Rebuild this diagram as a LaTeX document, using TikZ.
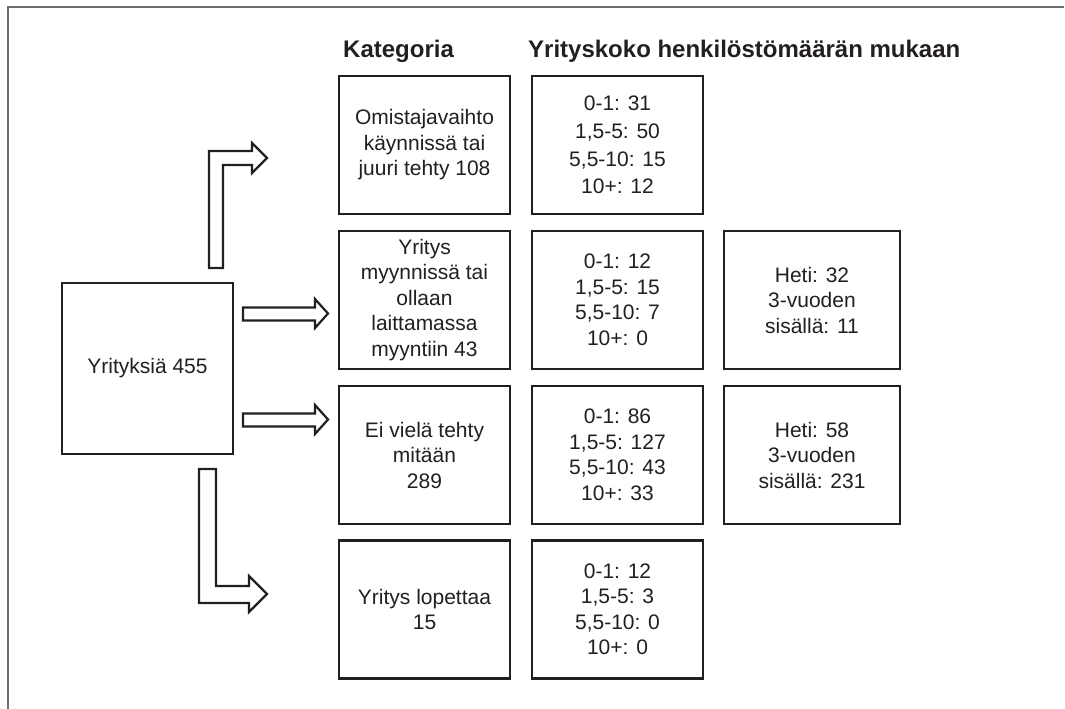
\documentclass[tikz,border=0pt]{standalone}
\usepackage{fontspec}
\setmainfont{Liberation Sans}
\definecolor{ink}{HTML}{231F20}
\definecolor{framegray}{HTML}{6E6E6E}
\begin{document}
\begin{tikzpicture}[x=1pt,y=-1pt,
  box/.style={draw=ink, line width=2.6pt, fill=white, inner sep=0pt, minimum width=171pt, minimum height=138pt, align=center, text=ink, font=\fontsize{21}{25.5}\selectfont},
  wbox/.style={box, minimum width=176pt},
  hdr/.style={anchor=base west, text=ink, font=\bfseries\fontsize{24}{28}\selectfont, inner sep=0pt},
  blockarrow/.style={draw=ink, line width=2.2pt, fill=white, line join=miter}
]
\useasboundingbox (0,0) rectangle (1065,709);
% frame
\draw[framegray, line width=1.5pt] (8,709) -- (8,7) -- (1064,7);

% headers
\node[hdr] (hcat) at (343,58) {Kategoria};
\node[hdr] (hsize) at (528,58) {Yrityskoko henkilöstömäärän mukaan};

% main box
\node[box, minimum width=171pt, minimum height=171pt] (main) at (147.5,368.5) {Yrityksiä 455};

% category column
\node[box] (c1) at (424.5,145) {Omistajavaihto\\käynnissä tai\\juuri tehty 108};
\node[box] (c2) at (424.5,300) {Yritys\\myynnissä tai\\ollaan\\laittamassa\\myyntiin 43};
\node[box] (c3) at (424.5,455) {Ei vielä tehty\\mitään\\289};
\node[box] (c4) at (424.5,609.5) {Yritys lopettaa\\15};

% size column
\node[box, font=\fontsize{21}{27.7}\selectfont] (s1) at (617.5,145) {0-1: 31\\1,5-5: 50\\5,5-10: 15\\10+: 12};
\node[box] (s2) at (617.5,300) {0-1: 12\\1,5-5: 15\\5,5-10: 7\\10+: 0};
\node[box] (s3) at (617.5,455) {0-1: 86\\1,5-5: 127\\5,5-10: 43\\10+: 33};
\node[box] (s4) at (617.5,609.5) {0-1: 12\\1,5-5: 3\\5,5-10: 0\\10+: 0};

% timing column
\node[wbox] (t2) at (812,300) {Heti: 32\\3-vuoden\\sisällä: 11};
\node[wbox] (t3) at (812,455) {Heti: 58\\3-vuoden\\sisällä: 231};

% block arrows
% bent up arrow to row 1
\draw[blockarrow] (209,268) -- (209,151) -- (252,151) -- (252,143) -- (267,158) -- (252,173) -- (252,165) -- (223,165) -- (223,268) -- cycle;
% straight arrow to row 2
\draw[blockarrow] (243,307.5) -- (315,307.5) -- (315,299) -- (328,313.5) -- (315,328) -- (315,320.5) -- (243,320.5) -- cycle;
% straight arrow to row 3
\draw[blockarrow] (243,413.5) -- (315,413.5) -- (315,405) -- (328,419.5) -- (315,434) -- (315,426.5) -- (243,426.5) -- cycle;
% bent down arrow to row 4
\draw[blockarrow] (199,469) -- (199,603) -- (249,603) -- (249,612) -- (267,594) -- (249,576) -- (249,586) -- (216,586) -- (216,469) -- cycle;
\end{tikzpicture}
\end{document}
